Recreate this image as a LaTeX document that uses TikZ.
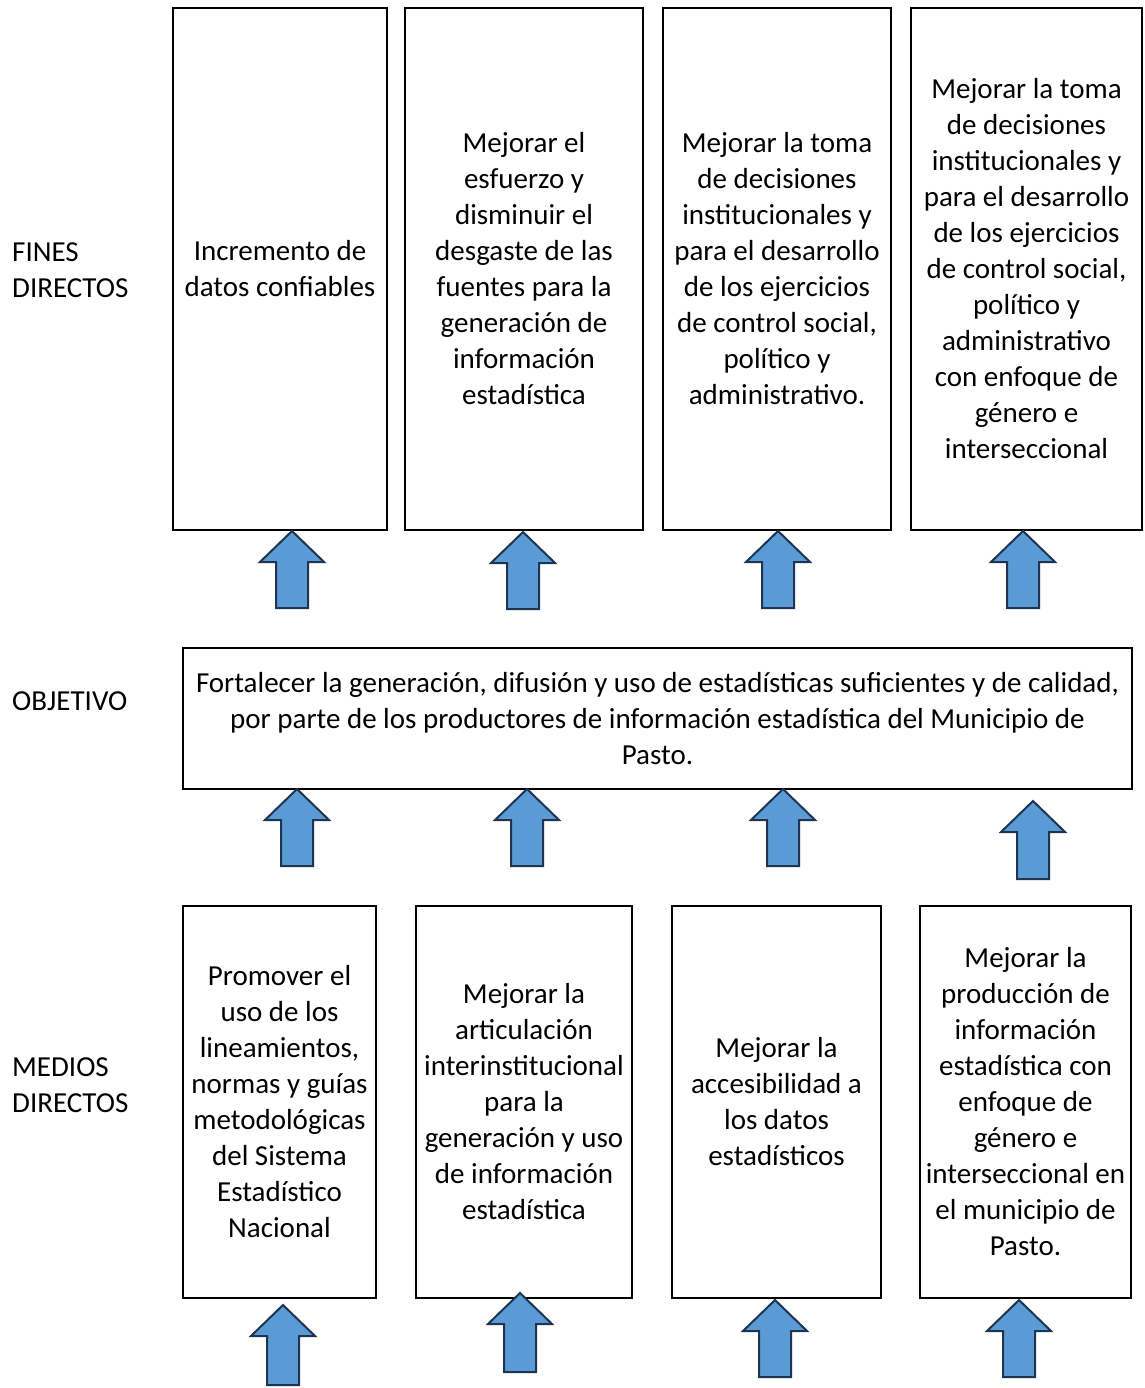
\documentclass[tikz,border=0pt]{standalone}
\usepackage{fontspec}
\setmainfont{Carlito}
\usepackage{xcolor}
\usepackage{tikz}
\usetikzlibrary{positioning}

\definecolor{arrowblue}{RGB}{91,155,213}
\definecolor{arrowline}{RGB}{30,52,82}

% block arrow pointing up: x, tip y, bottom y
\newcommand{\blockarrow}[3]{%
	\draw[barrow] (#1,#2) -- (#1+32,#2+31) -- (#1+16,#2+31) -- (#1+16,#3)
		-- (#1-16,#3) -- (#1-16,#2+31) -- (#1-32,#2+31) -- cycle;}

\begin{document}
\begin{tikzpicture}[
		x=1pt, y=-1pt,
		box/.style={rectangle, draw, line width=1.8pt, align=center, inner sep=0pt,
			font=\fontsize{29}{36}\selectfont, text=black},
		rowlabel/.style={anchor=west, align=left, inner sep=0pt,
			font=\fontsize{29}{36}\selectfont},
		barrow/.style={fill=arrowblue, draw=arrowline, line width=2pt, line join=miter}
		]
		\useasboundingbox (0,0) rectangle (1144,1388);
		
		% Row labels
		\node[rowlabel] (lfines) at (12,270) {FINES\\DIRECTOS};
		\node[rowlabel] (lobj) at (12,701) {OBJETIVO};
		\node[rowlabel] (lmedios) at (12,1085) {MEDIOS\\DIRECTOS};
		
		% Fines directos
		\node[box, minimum width=214pt, minimum height=522pt] (f1) at (280,269)
			{Incremento de\\datos confiables};
		\node[box, minimum width=238pt, minimum height=522pt] (f2) at (524,269)
			{Mejorar el\\esfuerzo y\\disminuir el\\desgaste de las\\fuentes para la\\generación de\\información\\estadística};
		\node[box, minimum width=228pt, minimum height=522pt] (f3) at (777,269)
			{Mejorar la toma\\de decisiones\\institucionales y\\para el desarrollo\\de los ejercicios\\de control social,\\político y\\administrativo.};
		\node[box, minimum width=231pt, minimum height=522pt] (f4) at (1026.5,269)
			{Mejorar la toma\\de decisiones\\institucionales y\\para el desarrollo\\de los ejercicios\\de control social,\\político y\\administrativo\\con enfoque de\\género e\\interseccional};
		
		% Objetivo
		\node[box, minimum width=949pt, minimum height=141pt] (obj) at (657.5,718.5)
			{Fortalecer la generación, difusión y uso de estadísticas suficientes y de calidad,\\por parte de los productores de información estadística del Municipio de\\Pasto.};
		
		% Medios directos
		\node[box, minimum width=193pt, minimum height=392pt] (m1) at (279.5,1102)
			{Promover el\\uso de los\\lineamientos,\\normas y guías\\metodológicas\\del Sistema\\Estadístico\\Nacional};
		\node[box, minimum width=216pt, minimum height=392pt] (m2) at (524,1102)
			{Mejorar la\\articulación\\interinstitucional\\para la\\generación y uso\\de información\\estadística};
		\node[box, minimum width=209pt, minimum height=392pt] (m3) at (776.5,1102)
			{Mejorar la\\accesibilidad a\\los datos\\estadísticos};
		\node[box, minimum width=211pt, minimum height=392pt] (m4) at (1025.5,1102)
			{Mejorar la\\producción de\\información\\estadística con\\enfoque de\\género e\\interseccional en\\el municipio de\\Pasto.};
		
		% Arrows between rows
		\blockarrow{292}{531}{608}
		\blockarrow{523}{532}{609}
		\blockarrow{778}{531}{608}
		\blockarrow{1023}{531}{608}
		
		\blockarrow{297}{789}{866}
		\blockarrow{527}{789}{866}
		\blockarrow{783}{789}{866}
		\blockarrow{1033}{801}{879}
		
		\blockarrow{283}{1305}{1385}
		\blockarrow{520}{1293}{1372}
		\blockarrow{775}{1300}{1377}
		\blockarrow{1019}{1300}{1377}
		
	\end{tikzpicture}
\end{document}
